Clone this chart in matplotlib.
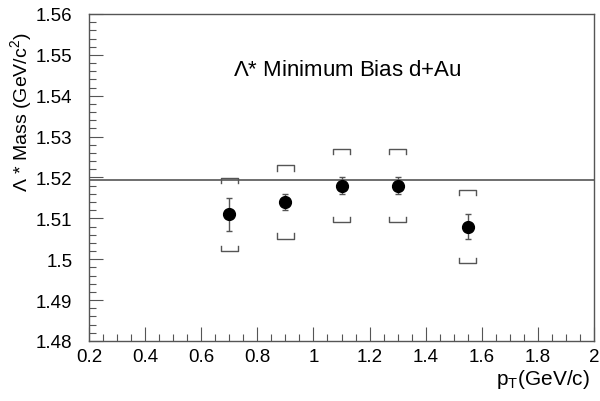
import matplotlib
matplotlib.use("Agg")
import matplotlib.pyplot as plt
from matplotlib.ticker import MultipleLocator, FuncFormatter

plt.rcParams['font.family'] = ['Liberation Sans', 'DejaVu Sans']
plt.rcParams['mathtext.fontset'] = 'custom'
plt.rcParams['mathtext.rm'] = 'Liberation Sans'
plt.rcParams['mathtext.it'] = 'Liberation Sans:italic'

pt = [0.7, 0.9, 1.1, 1.3, 1.55]
mass = [1.511, 1.514, 1.518, 1.518, 1.508]
stat = [0.004, 0.002, 0.002, 0.002, 0.003]
sys_err = [0.009, 0.009, 0.009, 0.009, 0.009]
pdg_mass = 1.5195

fig = plt.figure(figsize=(6.0, 4.02), dpi=100)
ax = fig.add_axes([89/600, 1 - 342/402, (594-89)/600, (342-15)/402])

gray = '#555555'
ax.axhline(pdg_mass, color=gray, lw=1.2, zorder=1)

bw = 0.03
for x, y, s in zip(pt, mass, sys_err):
    h = 0.0013
    ax.plot([x-bw, x-bw, x+bw, x+bw], [y+s-h, y+s, y+s, y+s-h], color=gray, lw=1.0, zorder=2)
    ax.plot([x-bw, x-bw, x+bw, x+bw], [y-s+h, y-s, y-s, y-s+h], color=gray, lw=1.0, zorder=2)

ax.errorbar(pt, mass, yerr=stat, fmt='o', color='black', ecolor=gray,
            elinewidth=1.0, capsize=2, capthick=1.0, markersize=8.5, zorder=3)

ax.set_xlim(0.2, 2.0)
ax.set_ylim(1.48, 1.56)
ax.xaxis.set_major_locator(MultipleLocator(0.2))
ax.xaxis.set_minor_locator(MultipleLocator(0.05))
ax.yaxis.set_major_locator(MultipleLocator(0.01))
ax.yaxis.set_minor_locator(MultipleLocator(0.002))

def fmt(v, p):
    s = ('%.2f' % v).rstrip('0').rstrip('.')
    return s
ax.xaxis.set_major_formatter(FuncFormatter(fmt))
ax.yaxis.set_major_formatter(FuncFormatter(fmt))

ax.tick_params(which='both', direction='in', top=False, right=False, labelsize=13.5, colors='black')
ax.tick_params(which='major', length=10, width=0.8, color=gray)
ax.tick_params(which='minor', length=5, width=0.8, color=gray)
ax.tick_params(axis='x', which='major', pad=5)
ax.tick_params(axis='y', which='major', pad=12)
for sp in ax.spines.values():
    sp.set_color(gray)
    sp.set_linewidth(1.0)

ax.text((347-89)/505, (342-70)/327, r'$\mathit{\Lambda}$* Minimum Bias d+Au', transform=ax.transAxes,
        ha='center', va='center', fontsize=16)
fig.text(21/600, 1 - 112/402, r'$\mathit{\Lambda}$ * Mass (GeV/c$^2$)', rotation=90,
         ha='center', va='center', fontsize=14)
fig.text(590/600, 1 - 380/402, r'p$_\mathregular{T}$(GeV/c)', ha='right', va='center', fontsize=15)

fig.savefig('out.png', dpi=100)
